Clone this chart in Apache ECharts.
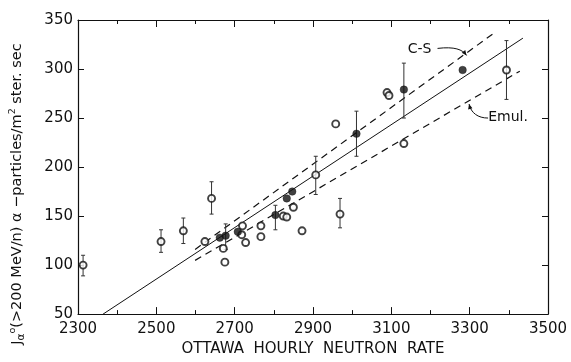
<!DOCTYPE html>
<html><head><meta charset="utf-8">
<script src="https://cdn.jsdelivr.net/npm/echarts@6/dist/echarts.min.js"></script>
<style>html,body{margin:0;padding:0;background:#fff}#c{width:571px;height:362px}</style>
</head><body><div id="c"></div>
<script>
// ---- data ----
const xMin = 2300, xMax = 3500, xStep = 200;
const yMin = 50, yMax = 350, yStep = 50;
const openX = [2313, 2512, 2569, 2641, 2624, 2671, 2675, 2718, 2720, 2728, 2767, 2767, 2824, 2833, 2850, 2872, 2907, 2958, 2969, 3089, 3094, 3132, 3394];
const openY = [100, 124, 135, 168, 124, 117, 103, 131, 140, 123, 140, 129, 150, 149, 159, 135, 192, 244, 152, 276, 273, 224, 299];
const filledX = [2662, 2677, 2708, 2804, 2833, 2847, 3011, 3132, 3282];
const filledY = [128, 130, 134, 151, 168, 175, 234, 279, 299];
const errX = [2313, 2512, 2569, 2641, 2677, 2804, 2907, 2969, 3011, 3132, 3394];
const errLow = [89, 113, 122, 152, 116, 136, 172, 138, 211, 250, 269];
const errHigh = [110, 136, 148, 185, 142, 161, 211, 168, 257, 306, 329];
const fitX = [2364, 3436], fitY = [50, 331.5];
const csX = [2599, 3362], csY = [116, 336.6];
const emulX = [2599, 3428], emulY = [104.8, 297.8];
const csLabel = 'C-S', csLabelAt = [3172, 320];
const emulLabel = 'Emul.', emulLabelAt = [3398, 251];
const xTitle = 'OTTAWA  HOURLY  NEUTRON  RATE';

const INK = '#111';
const FONT = 'DejaVu Sans';
const zip = (a, b) => a.map((v, i) => [v, b[i]]);

const chart = echarts.init(document.getElementById('c'), null, {renderer: 'canvas'});
const baseX = {
  type: 'value', min: xMin, max: xMax, interval: xStep,
  axisLine: {show: true, onZero: false, lineStyle: {color: INK, width: 1.2}},
  axisTick: {show: true, inside: true, length: 7, lineStyle: {color: INK, width: 1}},
  minorTick: {show: true, splitNumber: 2, length: 4, lineStyle: {color: INK, width: 1}},
  splitLine: {show: false}, minorSplitLine: {show: false}
};
const baseY = {
  type: 'value', min: yMin, max: yMax, interval: yStep,
  axisLine: {show: true, onZero: false, lineStyle: {color: INK, width: 1.2}},
  axisTick: {show: true, inside: true, length: 6, lineStyle: {color: INK, width: 1}},
  splitLine: {show: false}
};
chart.setOption({
  animation: false,
  backgroundColor: '#fff',
  grid: {left: 78, right: 23, top: 20, bottom: 45},
  xAxis: [
    Object.assign({}, baseX, {position: 'bottom',
      axisLabel: {show: true, margin: 8, fontSize: 15, fontFamily: FONT, color: INK, formatter: v => String(v)},
      name: xTitle, nameLocation: 'middle', nameGap: 26,
      nameTextStyle: {fontSize: 15, fontFamily: FONT, color: INK}}),
    Object.assign({}, baseX, {position: 'top', axisLabel: {show: false}})
  ],
  yAxis: [
    Object.assign({}, baseY, {position: 'left',
      axisLabel: {show: true, margin: 5, fontSize: 15, fontFamily: FONT, color: INK, formatter: v => String(v)}}),
    Object.assign({}, baseY, {position: 'right', axisLabel: {show: false}})
  ],
  series: [
    {type: 'line', data: zip(fitX, fitY), symbol: 'none', lineStyle: {color: INK, width: 1}, z: 2},
    {type: 'line', data: zip(csX, csY), symbol: 'none', lineStyle: {color: INK, width: 1.2, type: [7, 5]}, z: 2},
    {type: 'line', data: zip(emulX, emulY), symbol: 'none', lineStyle: {color: INK, width: 1.2, type: [7, 5]}, z: 2},
    {type: 'custom', z: 3,
      data: errX.map((x, i) => [x, errLow[i], errHigh[i]]),
      renderItem: function (params, api) {
        const lo = api.coord([api.value(0), api.value(1)]);
        const hi = api.coord([api.value(0), api.value(2)]);
        const s = {stroke: '#333', lineWidth: 1};
        return {type: 'group', children: [
          {type: 'line', shape: {x1: lo[0], y1: lo[1], x2: hi[0], y2: hi[1]}, style: s},
          {type: 'line', shape: {x1: lo[0] - 2, y1: lo[1], x2: lo[0] + 2, y2: lo[1]}, style: s},
          {type: 'line', shape: {x1: hi[0] - 2, y1: hi[1], x2: hi[0] + 2, y2: hi[1]}, style: s}
        ]};
      }
    },
    {type: 'scatter', data: zip(openX, openY), symbol: 'circle', symbolSize: 7, z: 4,
      itemStyle: {color: '#fff', borderColor: INK, borderWidth: 1.9}},
    {type: 'scatter', data: zip(filledX, filledY), symbol: 'circle', symbolSize: 7.5, z: 4,
      itemStyle: {color: INK, borderColor: INK, borderWidth: 0.5}}
  ]
});

// y-axis title and annotations
const cs = chart.convertToPixel({gridIndex: 0}, csLabelAt);
const em = chart.convertToPixel({gridIndex: 0}, emulLabelAt);
const csEnd = [cs[0] + 47, cs[1] + 6];
const emEnd = [em[0] - 39, em[1] - 13];
const arrowHead = (tip, dx, dy) => {
  const len = Math.hypot(dx, dy), ux = dx / len, uy = dy / len;
  const px = -uy, py = ux, L = 5, W = 2.2;
  return {type: 'polygon', shape: {points: [tip,
    [tip[0] - ux * L + px * W, tip[1] - uy * L + py * W],
    [tip[0] - ux * L - px * W, tip[1] - uy * L - py * W]]},
    style: {fill: INK}};
};
chart.setOption({graphic: [
  {type: 'text', x: 17, y: 194, rotation: Math.PI / 2,
    style: {
      text: '{j|J}{sub|α}{sup|o}{t|(>200 MeV/n) α −particles/m}{sup|2}{t| ster. sec}',
      align: 'center', verticalAlign: 'middle', fill: INK,
      rich: {
        j: {fontSize: 14.5, fontFamily: FONT, fill: INK},
        t: {fontSize: 14.5, fontFamily: FONT, fill: INK},
        sub: {fontSize: 10.5, fontFamily: FONT, fill: INK, padding: [8, 0, 0, 0]},
        sup: {fontSize: 9.5, fontFamily: FONT, fill: INK, padding: [0, 0, 8, 0]}
      }
    }},
  {type: 'text', x: cs[0], y: cs[1], style: {text: csLabel, align: 'center', verticalAlign: 'middle',
    fontSize: 14, fontFamily: FONT, fill: INK}},
  {type: 'bezierCurve', shape: {x1: cs[0] + 18, y1: cs[1] - 1, cpx1: cs[0] + 35, cpy1: cs[1] - 3,
    cpx2: cs[0] + 43, cpy2: cs[1] + 0, x2: csEnd[0], y2: csEnd[1]},
    style: {stroke: INK, lineWidth: 1, fill: null}},
  arrowHead(csEnd, 3, 4),
  {type: 'text', x: em[0], y: em[1], style: {text: emulLabel, align: 'center', verticalAlign: 'middle',
    fontSize: 14, fontFamily: FONT, fill: INK}},
  {type: 'bezierCurve', shape: {x1: em[0] - 20, y1: em[1] + 1, cpx1: em[0] - 30, cpy1: em[1] + 1,
    cpx2: em[0] - 37, cpy2: em[1] - 4, x2: emEnd[0], y2: emEnd[1]},
    style: {stroke: INK, lineWidth: 1, fill: null}},
  arrowHead(emEnd, -1, -4)
]});
</script>
</body></html>
